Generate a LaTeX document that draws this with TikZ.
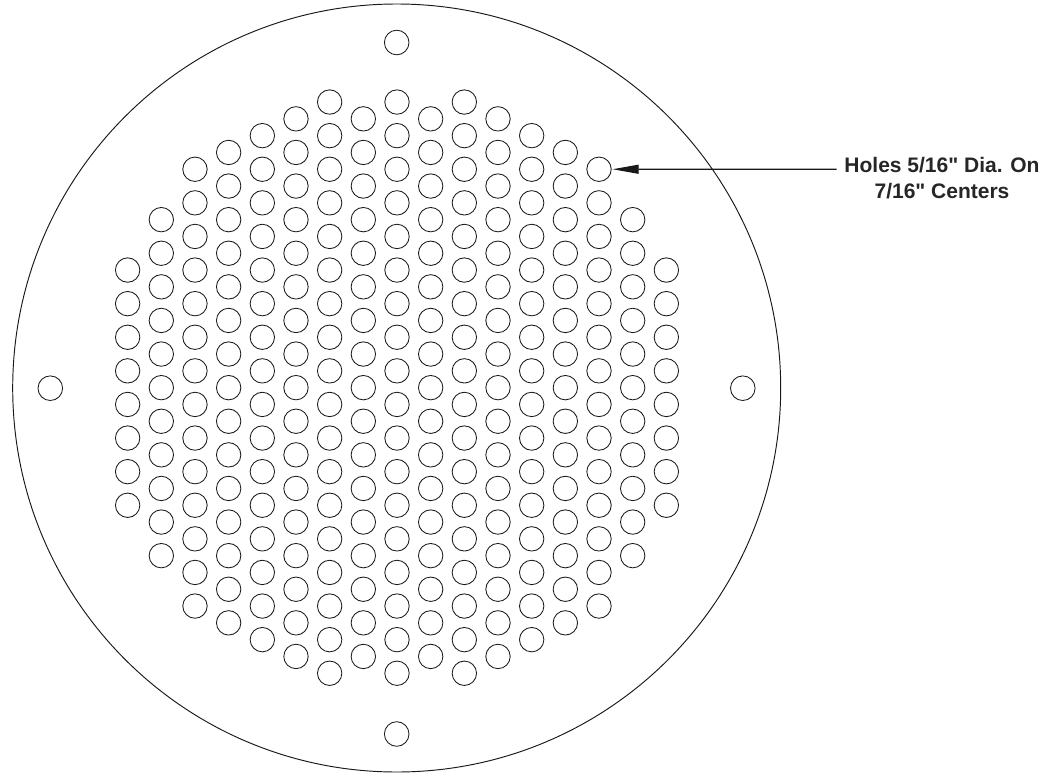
\documentclass[tikz,border=0pt]{standalone}
\usepackage{fontspec}
\setmainfont{Liberation Sans}[Ligatures=TeXOff]
\usetikzlibrary{arrows.meta}
\tikzset{
  hole/.style={draw=black!90,line width=0.85pt,circle,minimum size=24.4pt,inner sep=0pt,outer sep=0pt},
  mount/.style={draw=black!90,line width=0.85pt,circle,minimum size=24.6pt,inner sep=0pt,outer sep=0pt},
  plate/.style={draw=black!90,line width=0.95pt,circle,minimum size=768pt,inner sep=0pt,outer sep=0pt},
  note/.style={font=\bfseries\fontsize{21}{26}\selectfont,text=black!85,align=center,inner sep=0pt},
  leader/.style={draw=black!90,line width=1.05pt,shorten >=1.4pt,-{Triangle[length=26pt,width=9pt]}}
}
\begin{document}
\begin{tikzpicture}[x=1pt,y=-1pt]
\useasboundingbox (0,0) rectangle (1053,776);
\node[plate] (P) at (396.7,388) {};
\node[mount] (mt) at (396.7,42.5) {};
\node[mount] (mb) at (396.7,734) {};
\node[mount] (ml) at (50.3,388.2) {};
\node[mount] (mr) at (742.8,388.2) {};
\foreach \i/\h in {-8/3.5,-7/5,-6/6.5,-5/7,-4/7.5,-3/8,-2/8.5,-1/8,0/8.5,1/8,2/8.5,3/8,4/7.5,5/7,6/6.5,7/5,8/3.5}{
  \pgfmathsetmacro{\n}{int(2*\h)}
  \foreach \k in {0,...,\n}{
    \node[hole] (h\i-\k) at ({397+33.67*\i},{387.65+33.6*(\k-\h)}) {};
  }
}
\node[note] (T) at (942,178.5) {Holes 5/16" Dia. On\\7/16" Centers};
\coordinate (L) at (836.5,169.25);
\draw[leader] (L) -- (h6-0.east);
\end{tikzpicture}
\end{document}
